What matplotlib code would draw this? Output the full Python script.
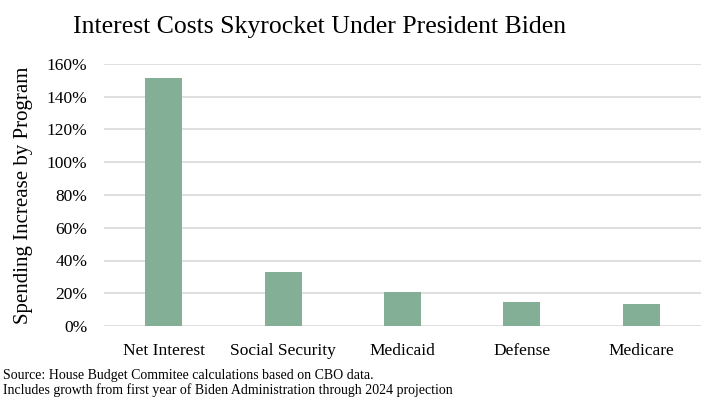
import matplotlib.pyplot as plt
from matplotlib.ticker import PercentFormatter

programs = ["Net Interest", "Social Security", "Medicaid", "Defense", "Medicare"]
increase = [151.5, 33, 21, 14.7, 13.7]
yticks = [0, 20, 40, 60, 80, 100, 120, 140, 160]

plt.rcParams['font.family'] = ['Liberation Serif', 'DejaVu Serif']

fig = plt.figure(figsize=(7.09, 3.97), dpi=100)
ax = fig.add_axes([104 / 709, 1 - 326 / 397, 597 / 709, 262 / 397])

ax.bar(range(len(programs)), increase, width=0.31, color="#82AF95", zorder=3)
ax.set_xlim(-0.5, len(programs) - 0.5)
ax.set_ylim(0, 160)
ax.set_yticks(yticks)
ax.yaxis.set_major_formatter(PercentFormatter(decimals=0))
ax.set_xticks(range(len(programs)))
ax.set_xticklabels(programs, fontsize=12.5)
ax.tick_params(axis='y', labelsize=12.5, length=0, pad=12)
ax.tick_params(axis='x', length=0, pad=12)
ax.grid(axis='y', color="#d9d9d9", linewidth=1.2, zorder=0)
for s in ax.spines.values():
    s.set_visible(False)
ax.set_ylabel("Spending Increase by Program", fontsize=15, labelpad=10)

fig.text(73 / 709, 1 - 27 / 397, "Interest Costs Skyrocket Under President Biden",
         fontsize=18.5, va='center', ha='left')
fig.text(3 / 709, 1 - 376 / 397, "Source: House Budget Commitee calculations based on CBO data.",
         fontsize=10, va='center', ha='left')
fig.text(3 / 709, 1 - 390 / 397, "Includes growth from first year of Biden Administration through 2024 projection",
         fontsize=10, va='center', ha='left')

fig.savefig("out.png", dpi=100)
